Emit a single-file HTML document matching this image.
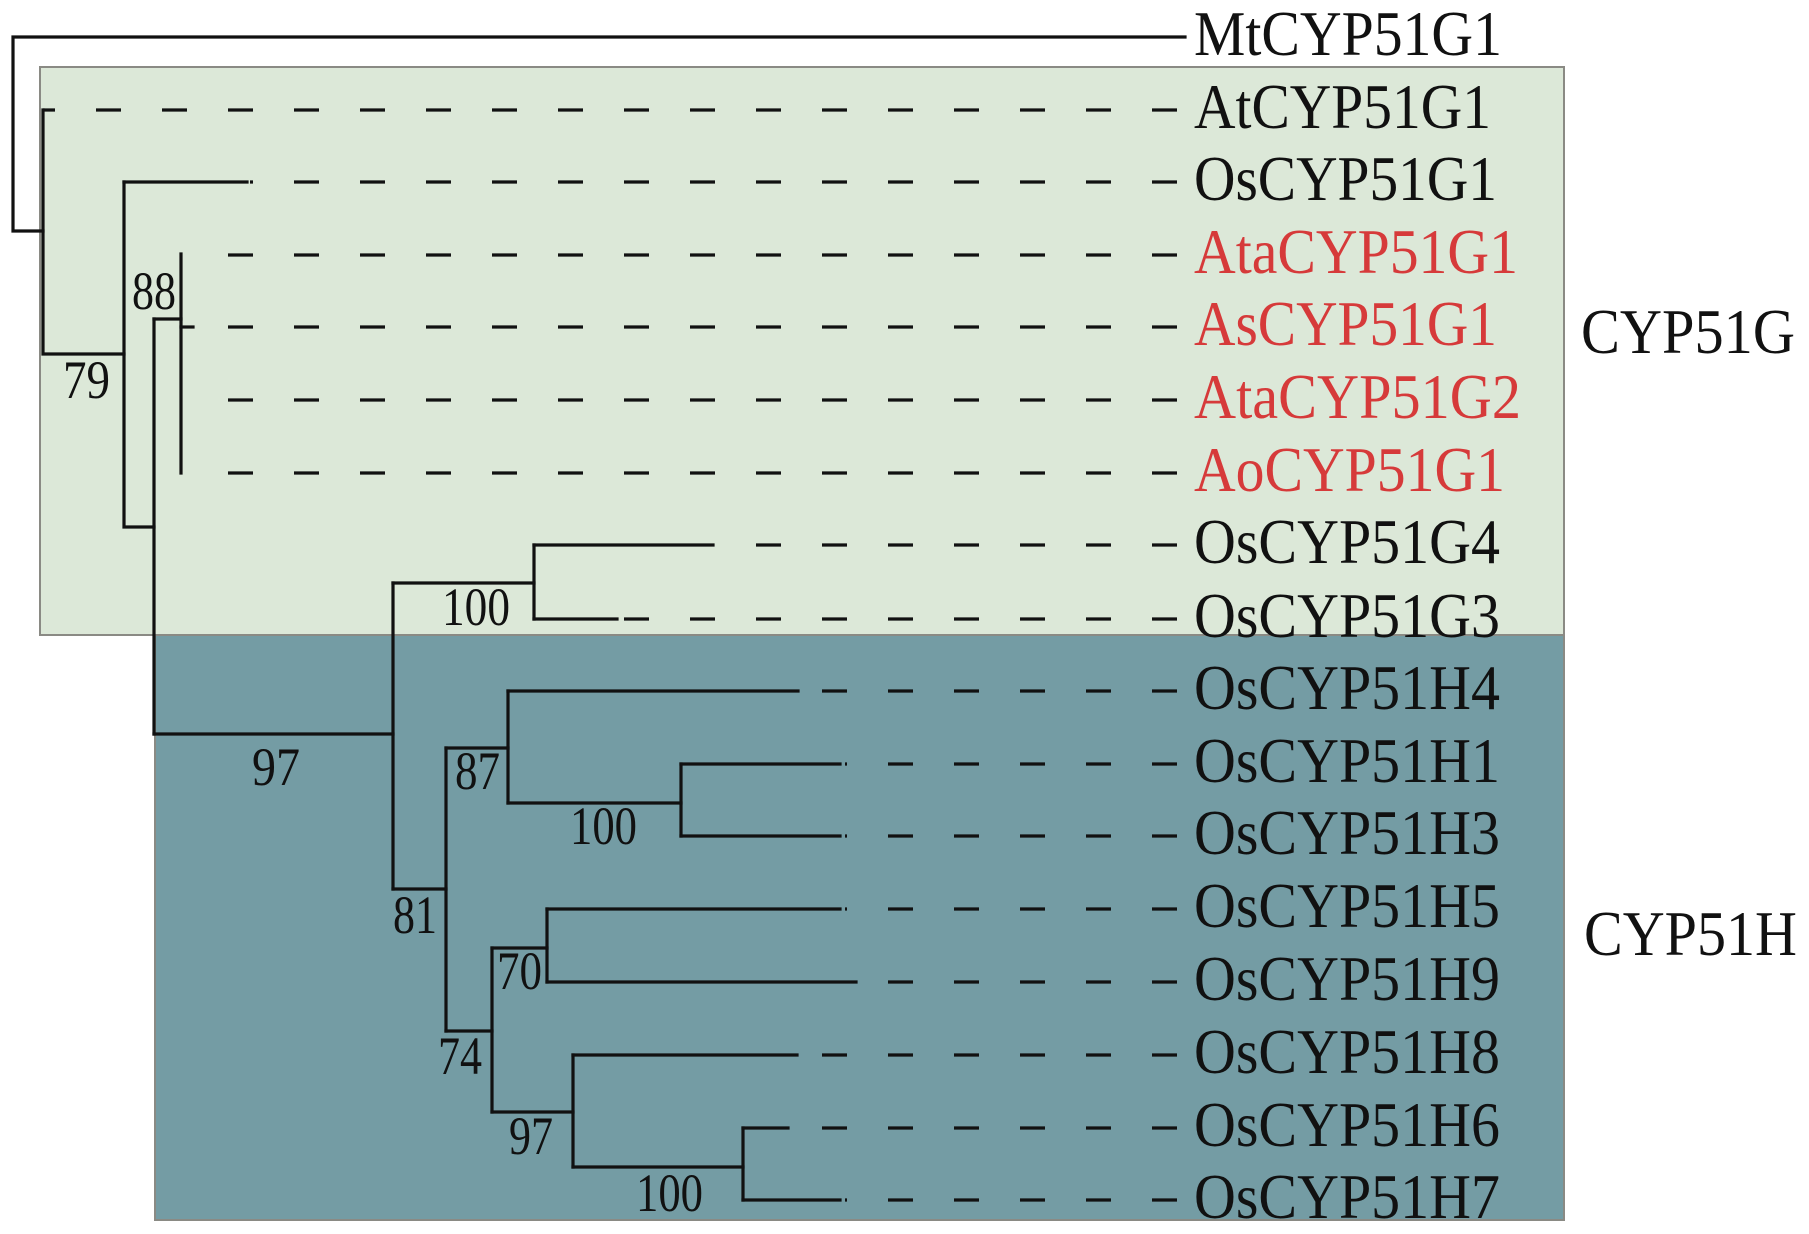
<!DOCTYPE html>
<html><head><meta charset="utf-8"><style>html,body{margin:0;padding:0;background:#fff}svg{display:block}</style></head>
<body>
<svg width="1809" height="1234" viewBox="0 0 1809 1234" xmlns="http://www.w3.org/2000/svg" font-family="'Liberation Serif', serif">
<rect x="40" y="67" width="1524" height="568" fill="#dce8d8" stroke="#8a8a84" stroke-width="2"/>
<rect x="155" y="635" width="1409" height="585" fill="#749ca4" stroke="#8a8a84" stroke-width="2"/>
<g stroke="#111" stroke-width="3.2" fill="none" stroke-linecap="square">
<polyline points="1185,37 13,37 13,231 43,231"/>
<polyline points="43,110 43,354 124,354"/>
<polyline points="124,182 124,527 154,527"/>
<line x1="124" y1="182" x2="247" y2="182"/>
<polyline points="181,254 181,473"/>
<polyline points="154,319 181,319"/>
<line x1="154" y1="319" x2="154" y2="734"/>
<line x1="181" y1="327" x2="193" y2="327"/>
<line x1="154" y1="734" x2="393" y2="734"/>
<line x1="393" y1="583" x2="393" y2="889"/>
<line x1="393" y1="583" x2="534" y2="583"/>
<line x1="534" y1="545" x2="534" y2="619"/>
<line x1="534" y1="545" x2="713" y2="545"/>
<line x1="534" y1="619" x2="617" y2="619"/>
<line x1="393" y1="889" x2="446" y2="889"/>
<line x1="446" y1="748" x2="446" y2="1031"/>
<line x1="446" y1="748" x2="508" y2="748"/>
<line x1="508" y1="691" x2="508" y2="803"/>
<line x1="508" y1="691" x2="798" y2="691"/>
<line x1="508" y1="803" x2="681" y2="803"/>
<line x1="681" y1="764" x2="681" y2="836"/>
<line x1="681" y1="764" x2="840" y2="764"/>
<line x1="681" y1="836" x2="840" y2="836"/>
<line x1="446" y1="1031" x2="492" y2="1031"/>
<line x1="492" y1="948" x2="492" y2="1112"/>
<line x1="492" y1="948" x2="547" y2="948"/>
<line x1="547" y1="909" x2="547" y2="982"/>
<line x1="547" y1="909" x2="840" y2="909"/>
<line x1="547" y1="982" x2="856" y2="982"/>
<line x1="492" y1="1112" x2="573" y2="1112"/>
<line x1="573" y1="1055" x2="573" y2="1167"/>
<line x1="573" y1="1055" x2="797" y2="1055"/>
<line x1="573" y1="1167" x2="743" y2="1167"/>
<line x1="743" y1="1128" x2="743" y2="1200"/>
<line x1="743" y1="1128" x2="788" y2="1128"/>
<line x1="743" y1="1200" x2="840" y2="1200"/>
</g>
<g stroke="#111" stroke-width="3.2" stroke-dasharray="25 41" stroke-dashoffset="0">
<line x1="1177" y1="110" x2="43" y2="110"/>
<line x1="1177" y1="182" x2="250" y2="182"/>
<line x1="1177" y1="255" x2="190" y2="255"/>
<line x1="1177" y1="327" x2="190" y2="327"/>
<line x1="1177" y1="400" x2="190" y2="400"/>
<line x1="1177" y1="473" x2="190" y2="473"/>
<line x1="1177" y1="545" x2="716" y2="545"/>
<line x1="1177" y1="619" x2="620" y2="619"/>
<line x1="1177" y1="691" x2="800" y2="691"/>
<line x1="1177" y1="764" x2="845" y2="764"/>
<line x1="1177" y1="836" x2="845" y2="836"/>
<line x1="1177" y1="909" x2="845" y2="909"/>
<line x1="1177" y1="982" x2="860" y2="982"/>
<line x1="1177" y1="1055" x2="800" y2="1055"/>
<line x1="1177" y1="1128" x2="792" y2="1128"/>
<line x1="1177" y1="1200" x2="845" y2="1200"/>
</g>
<g font-size="63" fill="#111">
<text x="1194" y="55" textLength="308" lengthAdjust="spacingAndGlyphs">MtCYP51G1</text>
<text x="1194" y="128" textLength="297" lengthAdjust="spacingAndGlyphs">AtCYP51G1</text>
<text x="1194" y="200" textLength="303" lengthAdjust="spacingAndGlyphs">OsCYP51G1</text>
<text x="1194" y="273" textLength="324" lengthAdjust="spacingAndGlyphs" fill="#d63a3a">AtaCYP51G1</text>
<text x="1194" y="345" textLength="303" lengthAdjust="spacingAndGlyphs" fill="#d63a3a">AsCYP51G1</text>
<text x="1194" y="418" textLength="327" lengthAdjust="spacingAndGlyphs" fill="#d63a3a">AtaCYP51G2</text>
<text x="1194" y="491" textLength="311" lengthAdjust="spacingAndGlyphs" fill="#d63a3a">AoCYP51G1</text>
<text x="1194" y="563" textLength="306" lengthAdjust="spacingAndGlyphs">OsCYP51G4</text>
<text x="1194" y="637" textLength="306" lengthAdjust="spacingAndGlyphs">OsCYP51G3</text>
<text x="1194" y="709" textLength="306" lengthAdjust="spacingAndGlyphs">OsCYP51H4</text>
<text x="1194" y="782" textLength="306" lengthAdjust="spacingAndGlyphs">OsCYP51H1</text>
<text x="1194" y="854" textLength="306" lengthAdjust="spacingAndGlyphs">OsCYP51H3</text>
<text x="1194" y="927" textLength="306" lengthAdjust="spacingAndGlyphs">OsCYP51H5</text>
<text x="1194" y="1000" textLength="306" lengthAdjust="spacingAndGlyphs">OsCYP51H9</text>
<text x="1194" y="1073" textLength="306" lengthAdjust="spacingAndGlyphs">OsCYP51H8</text>
<text x="1194" y="1146" textLength="306" lengthAdjust="spacingAndGlyphs">OsCYP51H6</text>
<text x="1194" y="1218" textLength="306" lengthAdjust="spacingAndGlyphs">OsCYP51H7</text>
<text x="1581" y="353" textLength="214" lengthAdjust="spacingAndGlyphs">CYP51G</text>
<text x="1584" y="955" textLength="213" lengthAdjust="spacingAndGlyphs">CYP51H</text>
</g>
<g font-size="54" fill="#111">
<text x="63" y="398" textLength="47" lengthAdjust="spacingAndGlyphs">79</text>
<text x="132" y="309" textLength="44" lengthAdjust="spacingAndGlyphs">88</text>
<text x="442" y="625" textLength="68" lengthAdjust="spacingAndGlyphs">100</text>
<text x="252" y="785" textLength="48" lengthAdjust="spacingAndGlyphs">97</text>
<text x="455" y="789" textLength="45" lengthAdjust="spacingAndGlyphs">87</text>
<text x="570" y="844" textLength="67" lengthAdjust="spacingAndGlyphs">100</text>
<text x="393" y="933" textLength="44" lengthAdjust="spacingAndGlyphs">81</text>
<text x="497" y="989" textLength="45" lengthAdjust="spacingAndGlyphs">70</text>
<text x="438" y="1074" textLength="44" lengthAdjust="spacingAndGlyphs">74</text>
<text x="509" y="1154" textLength="44" lengthAdjust="spacingAndGlyphs">97</text>
<text x="636" y="1211" textLength="67" lengthAdjust="spacingAndGlyphs">100</text>
</g>
</svg>
</body></html>
